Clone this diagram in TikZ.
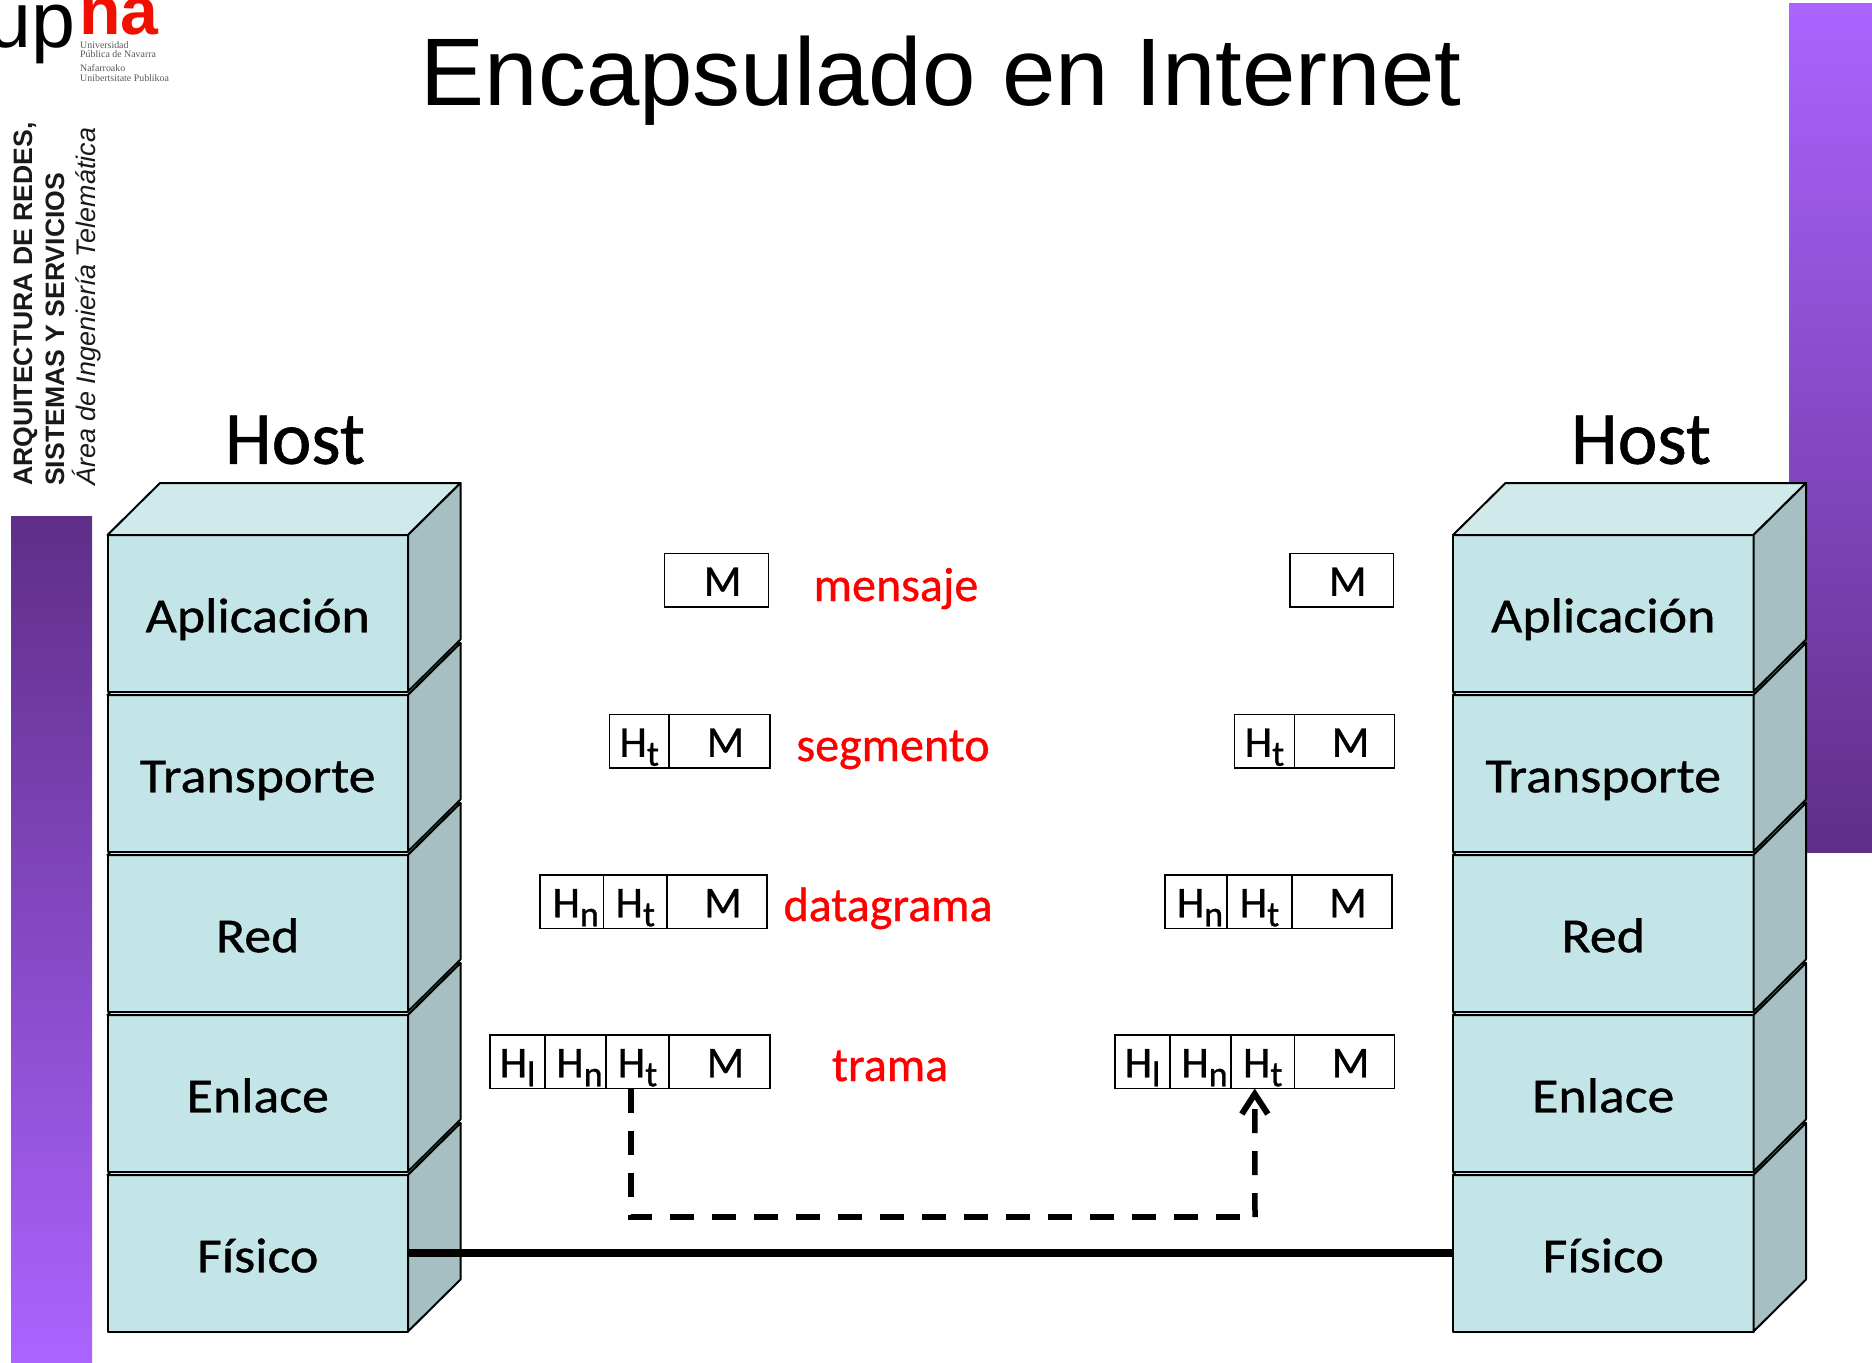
\documentclass[tikz,border=0pt]{standalone}
\usepackage{fontspec}
\usepackage{graphicx}
\usetikzlibrary{arrows.meta,calc}
\setmainfont{Liberation Sans}
\newfontfamily\hand[FakeBold=0.8]{Carlito}
\newfontfamily\handwide[FakeBold=0.8,FakeStretch=1.1]{Carlito}
\newfontfamily\serifsmall{Liberation Serif}
\definecolor{frontc}{HTML}{C4E5E8}
\definecolor{topc}{HTML}{D0E9EB}
\definecolor{sidec}{HTML}{A6BFC3}
\definecolor{bardark}{HTML}{5F2E88}
\definecolor{barlight}{HTML}{AB64FF}
\definecolor{labelred}{HTML}{FF0000}
\definecolor{logored}{HTML}{F01000}
\newcommand{\fsz}[1]{\fontsize{#1}{#1}\selectfont}
\newcommand{\hsub}[1]{H\lower9pt\hbox{\fsz{36}#1}}
\newcommand{\hsubn}{\hspace*{8pt}\hsub{n}}
\newcommand{\msg}{\hspace*{12pt}M}
\tikzset{
  x=1pt,y=-1pt,
  outline/.style={draw=black,line width=2pt,line join=round},
  layerface/.style={outline,fill=frontc,anchor=north west,inner sep=0pt,outer sep=0pt,
    minimum width=300.5pt,minimum height=156.5pt,font=\handwide\fsz{49},text height=48pt,text depth=10pt},
  cellbox/.style={draw=black,line width=1.6pt,fill=white,anchor=north west,inner sep=0pt,outer sep=0pt,
    minimum height=53.5pt,font=\hand\fsz{44},text height=40pt,text depth=9pt},
  hostlabel/.style={font=\hand\fsz{75}},
  pdulabel/.style={text=labelred,font=\hand\fsz{48},text height=30pt,text depth=10pt},
  sidetext/.style={rotate=90,anchor=base west,inner sep=0pt,text=black!90},
  unilabel/.style={anchor=base west,inner sep=0pt,font=\serifsmall\fsz{9.9},text=black!65},
  wire/.style={line width=8pt},
  hopline/.style={line width=6pt,dash pattern=on 24pt off 18pt},
}
\newcommand{\layer}[4]{%
  \node[layerface] (#1) at (#2,#3) {#4};
  \path[outline,fill=topc] (#1.north west) -- ++(52.5,-52) -- ++(300.5,0) -- ($(#1.north east)$) -- cycle;
  \path[outline,fill=sidec] (#1.north east) -- ++(52.5,-52) -- ++(0,156.5) -- (#1.south east) -- cycle;
}
\newcommand{\cell}[5]{%
  \node[cellbox,minimum width={#3-#2}] (#1) at (#2,#4) {#5};
}
\begin{document}
\begin{tikzpicture}
\useasboundingbox (0,0) rectangle (1872,1363);
\begin{scope}
\clip (0,0) rectangle (1872,1363);
% side bars
\shade[top color=bardark,bottom color=barlight] (11,516) rectangle (92,1363);
\shade[top color=barlight,bottom color=bardark] (1789,3) rectangle (1872,852);
% logo
\node[anchor=base east,inner sep=0pt,font=\fsz{79}] (logoup) at (76,47) {up};
\node[anchor=base west,inner sep=0pt,text=logored,text depth=0pt,font=\bfseries\fsz{68}] (logona) at (79,34) {na};
\end{scope}
\node[unilabel] (u1) at (80,48) {Universidad};
\node[unilabel] (u2) at (80,57) {Pública de Navarra};
\node[unilabel] (u3) at (80,71) {Nafarroako};
\node[unilabel] (u4) at (80,81) {Unibertsitate Publikoa};
% vertical text
\node[sidetext,font=\bfseries\fsz{26.6}] (s1) at (32,486) {ARQUITECTURA DE REDES,};
\node[sidetext,font=\bfseries\fsz{26.6}] (s2) at (64,486) {SISTEMAS Y SERVICIOS};
\node[sidetext,font=\itshape\fsz{26.9}] (s3) at (95,486) {Área de Ingeniería Telemática};
% title
\node[anchor=base,inner sep=0pt,font=\fsz{96}] (title) at (941,105) {Encapsulado en Internet};
% hosts
\node[hostlabel] (hostL) at (295,440) {Host};
\node[hostlabel] (hostR) at (1641,440) {Host};
% stacks
\layer{fisL}{107.5}{1175}{Físico}
\layer{enlL}{107.5}{1015}{Enlace}
\layer{redL}{107.5}{855}{Red}
\layer{traL}{107.5}{695}{Transporte}
\layer{aplL}{107.5}{535}{Aplicación}
\layer{fisR}{1453}{1175}{Físico}
\layer{enlR}{1453}{1015}{Enlace}
\layer{redR}{1453}{855}{Red}
\layer{traR}{1453}{695}{Transporte}
\layer{aplR}{1453}{535}{Aplicación}
% packets left
\cell{mL}{664.6}{768.6}{553.5}{\msg}
\cell{sLt}{609.5}{669}{714.5}{\hsub{t}}
\cell{sLm}{669}{770}{714.5}{\msg}
\cell{dLn}{540}{603.5}{875}{\hsubn}
\cell{dLt}{603.5}{667}{875}{\hsub{t}}
\cell{dLm}{667}{767}{875}{\msg}
\cell{tLl}{490}{545}{1035}{\hsub{l}}
\cell{tLn}{545}{606}{1035}{\hsubn}
\cell{tLt}{606}{669}{1035}{\hsub{t}}
\cell{tLm}{669}{770}{1035}{\msg}
% packets right
\cell{mR}{1290}{1393.6}{553.5}{\msg}
\cell{sRt}{1234.5}{1294.5}{714.5}{\hsub{t}}
\cell{sRm}{1294.5}{1394.6}{714.5}{\msg}
\cell{dRn}{1165}{1227}{875}{\hsubn}
\cell{dRt}{1227}{1292}{875}{\hsub{t}}
\cell{dRm}{1292}{1392}{875}{\msg}
\cell{tRl}{1115}{1170}{1035}{\hsub{l}}
\cell{tRn}{1170}{1231}{1035}{\hsubn}
\cell{tRt}{1231}{1294.5}{1035}{\hsub{t}}
\cell{tRm}{1294.5}{1394.6}{1035}{\msg}
% labels
\node[pdulabel] (lm) at (896,591) {mensaje};
\node[pdulabel] (ls) at (893,751) {segmento};
\node[pdulabel] (ld) at (888,911) {datagrama};
\node[pdulabel] (lt) at (890,1071) {trama};
% links
\draw[wire] (fisL.east) -- (fisR.west);
\coordinate (kink) at (1255,1217);
\draw[hopline] ([xshift=-7pt]tLt.south) |- (kink);
\draw[line width=5.5pt,dash pattern=on 24pt off 18pt,-{Straight Barb[length=20pt,width=26pt,line width=6pt]}] (kink) -- ([xshift=-8pt]tRt.south);
\end{tikzpicture}
\end{document}
